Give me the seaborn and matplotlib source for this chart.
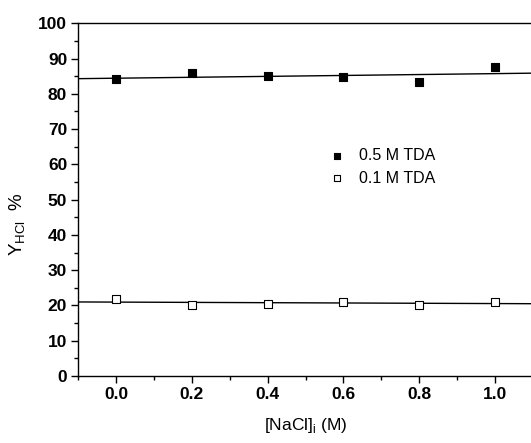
import numpy as np
import seaborn as sns
import matplotlib.pyplot as plt
from matplotlib.ticker import AutoMinorLocator, MultipleLocator

# Data
nacl = [0.0, 0.2, 0.4, 0.6, 0.8, 1.0]
y_05 = [84.1, 85.8, 85.1, 84.7, 83.3, 87.5]   # 0.5 M TDA
y_01 = [21.8, 20.1, 20.4, 21.0, 20.1, 21.1]   # 0.1 M TDA
x_ticks = [0.0, 0.2, 0.4, 0.6, 0.8, 1.0]
y_ticks = [0, 10, 20, 30, 40, 50, 60, 70, 80, 90, 100]

sns.set_style("ticks")
plt.rcParams['font.family'] = ['Liberation Sans', 'DejaVu Sans']
plt.rcParams['mathtext.fontset'] = 'custom'
plt.rcParams['mathtext.rm'] = 'Liberation Sans'
# Pure black text and ticks (seaborn defaults to dark grey)
for key in ['text.color', 'axes.labelcolor', 'xtick.color', 'ytick.color', 'axes.edgecolor']:
    plt.rcParams[key] = 'black'

fig = plt.figure(figsize=(5.31, 4.43), dpi=100)
ax = fig.add_axes([0.1475, 0.1512, 0.856, 0.7962])
ax.set_xlim(-0.1, 1.1)
ax.set_ylim(0, 100)

# Scatter + linear fit over the full x range
sns.regplot(x=nacl, y=y_05, ax=ax, ci=None, truncate=False, marker='s', color='black',
            scatter_kws={'s': 36, 'facecolors': 'black', 'edgecolors': 'black',
                         'linewidths': 0.8, 'alpha': 1, 'zorder': 3},
            line_kws={'linewidth': 1.0, 'color': 'black'})
sns.regplot(x=nacl, y=y_01, ax=ax, ci=None, truncate=False, marker='s', color='black',
            scatter_kws={'s': 36, 'facecolors': 'white', 'edgecolors': 'black',
                         'linewidths': 0.8, 'alpha': 1, 'zorder': 3},
            line_kws={'linewidth': 1.0, 'color': 'black'})

ax.set_xticks(x_ticks)
ax.set_yticks(y_ticks)
ax.set_xticklabels([f"{v:.1f}" for v in x_ticks])
ax.set_yticklabels([str(v) for v in y_ticks])
ax.xaxis.set_minor_locator(AutoMinorLocator(2))
ax.yaxis.set_minor_locator(AutoMinorLocator(2))
ax.tick_params(which='major', direction='out', length=5, width=1.0, labelsize=12.5, pad=3)
ax.tick_params(which='minor', direction='out', length=3, width=1.0)
for lab in ax.get_xticklabels() + ax.get_yticklabels():
    lab.set_fontweight('bold')

for side in ['left', 'bottom', 'top', 'right']:
    ax.spines[side].set_linewidth(1.0)
    ax.spines[side].set_color('black')

ax.set_xlabel(r"[NaCl]$_\mathregular{i}$ (M)", fontsize=12.5, labelpad=10)
ax.set_ylabel(r"Y$_\mathregular{HCl}$  %", fontsize=13.5)
ax.yaxis.set_label_coords(-0.11, 0.43)

handles = ax.collections[:2]
ax.legend(handles, ["0.5 M TDA", "0.1 M TDA"], frameon=False, fontsize=11.5,
          loc='upper left', bbox_to_anchor=(0.529, 0.6635), handlelength=1.5,
          handletextpad=0.625, labelspacing=0.45, markerscale=0.8, borderaxespad=0)

fig.savefig("out.png", dpi=100)
